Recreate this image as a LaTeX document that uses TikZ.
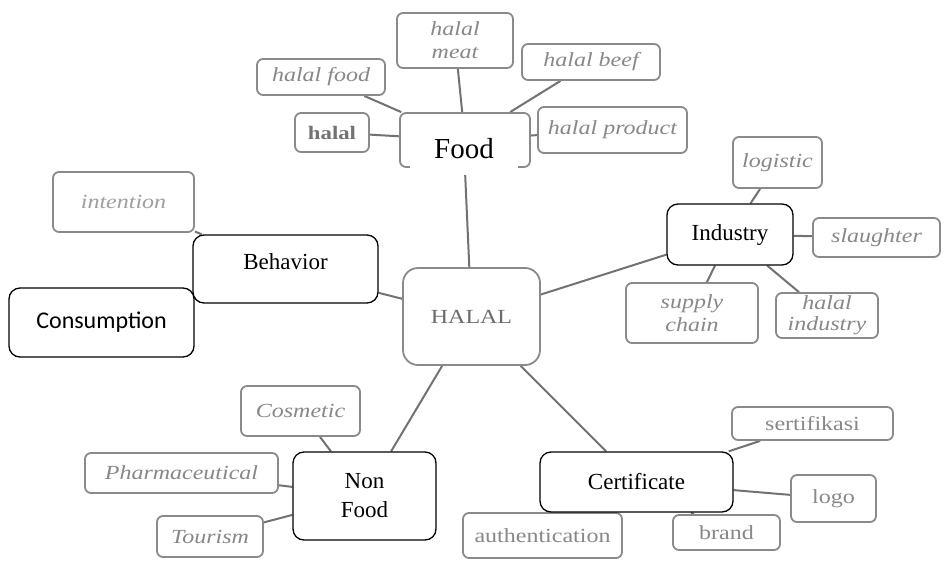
\documentclass[tikz,border=0pt]{standalone}
\usepackage{fontspec}
\setmainfont{Liberation Serif}
\newfontfamily\grayfont[FakeStretch=1.2]{Liberation Serif}
\newfontfamily\calfont{Carlito}
\usetikzlibrary{backgrounds}
\definecolor{lgray}{HTML}{8A8A8A}
\definecolor{tgray}{HTML}{888888}
\definecolor{cgray}{HTML}{727272}
\tikzset{
  gbox/.style={draw=lgray, line width=1.8pt, rounded corners=6pt, fill=white, inner sep=0pt,
    text=tgray, align=center, font=\grayfont\fontsize{20}{23}\selectfont},
  gital/.style={gbox, font=\grayfont\itshape\fontsize{20}{23}\selectfont},
  bbox/.style={draw=black, line width=1.3pt, rounded corners=11pt, fill=white, inner sep=0pt,
    align=center, font=\fontsize{23}{29}\selectfont},
  conn/.style={draw=cgray, line width=2pt},
}
\begin{document}
\begin{tikzpicture}[x=1pt,y=-1pt]
\useasboundingbox (0,0) rectangle (945,560);
% ---- gray topic boxes
\node[gital, minimum width=116pt, minimum height=55pt] (hmeat) at (455,40.5) {halal\\meat};
\node[gital, minimum width=128pt, minimum height=36pt] (hfood) at (321,77) {halal food};
\node[gital, minimum width=138pt, minimum height=36pt] (hbeef) at (591,62) {halal beef};
\node[gbox, minimum width=74pt, minimum height=39pt, text=gray!90!black, font=\grayfont\bfseries\fontsize{19}{23}\selectfont] (hal) at (332,132.5) {halal};
\node[gital, minimum width=149pt, minimum height=46pt] (hprod) at (612.5,130) {halal product};
\node[gbox, minimum width=130pt, minimum height=54pt] (foodg) at (465,140) {};
\node[fill=white, inner sep=0pt, minimum width=108pt, minimum height=53pt, font=\fontsize{29}{33}\selectfont] (food) at (464,148.5) {Food};
\node[gbox, rounded corners=15pt, minimum width=137pt, minimum height=97pt, text=gray!85!black] (center) at (471.5,316.5) {HALAL};
\node[gital, minimum width=141pt, minimum height=60pt, text=gray!75] (intent) at (123.5,202) {intention};
\node[gital, minimum width=89pt, minimum height=51pt] (logis) at (777.5,162.5) {logistic};
\node[gital, minimum width=127pt, minimum height=39pt] (slaugh) at (876.5,237.5) {slaughter};
\node[gital, minimum width=132pt, minimum height=60pt] (supply) at (692,313) {supply\\chain};
\node[gital, minimum width=102pt, minimum height=45pt, font=\grayfont\itshape\fontsize{20}{21}\selectfont] (hind) at (827,315.5) {halal\\industry};
\node[gital, minimum width=119pt, minimum height=50pt] (cosm) at (300.5,411) {Cosmetic};
\node[gital, minimum width=193pt, minimum height=40pt] (pharm) at (181.5,473) {Pharmaceutical};
\node[gital, minimum width=106pt, minimum height=41pt] (tour) at (210,536.5) {Tourism};
\node[gbox, minimum width=161pt, minimum height=33pt] (sert) at (812.5,423.5) {sertifikasi};
\node[gbox, minimum width=85pt, minimum height=47pt] (logo) at (833.5,498.5) {logo};
\node[gbox, minimum width=107pt, minimum height=35pt] (brand) at (726.5,532.5) {brand};
\node[gbox, minimum width=159pt, minimum height=45pt] (auth) at (542.5,535.5) {authentication};
% ---- black boxes
\node[bbox, minimum width=185pt, minimum height=68pt] (behav) at (285.5,269) {\raisebox{0pt}[0pt][0pt]{Behavior}};
\node[bbox, minimum width=185pt, minimum height=69pt, font=\calfont\fontsize{24}{28}\selectfont] (consum) at (101.5,322.5) {Consumption};
\node[bbox, minimum width=126pt, minimum height=61pt] (indus) at (730,234.5) {Industry};
\node[bbox, minimum width=143pt, minimum height=88pt] (nonfood) at (364.5,496) {Non\\Food};
\node[bbox, minimum width=193pt, minimum height=60pt] (cert) at (636.5,482) {Certificate};
% ---- connectors
\begin{pgfonlayer}{background}
\fill[white] (0,0) rectangle (945,560);
\draw[conn] (hfood) -- (foodg);
\draw[conn] (hmeat) -- (foodg);
\draw[conn] (hbeef) -- (foodg);
\draw[conn] (hal) -- (foodg);
\draw[conn] (hprod) -- (foodg);
\draw[conn] (food) -- (center);
\draw[conn] (intent) -- (behav);
\draw[conn] (behav) -- (center);
\draw[conn] (center) -- (indus);
\draw[conn] (indus) -- (logis);
\draw[conn] (indus) -- (slaugh);
\draw[conn] (indus) -- (supply);
\draw[conn] (indus) -- (hind);
\draw[conn] (center) -- (nonfood);
\draw[conn] (nonfood) -- (cosm);
\draw[conn] (nonfood) -- (pharm);
\draw[conn] (nonfood) -- (tour);
\draw[conn] (center) -- (cert);
\draw[conn] (cert) -- (sert);
\draw[conn] (cert) -- (logo);
\draw[conn] (cert) -- (brand);
\end{pgfonlayer}
\end{tikzpicture}
\end{document}
